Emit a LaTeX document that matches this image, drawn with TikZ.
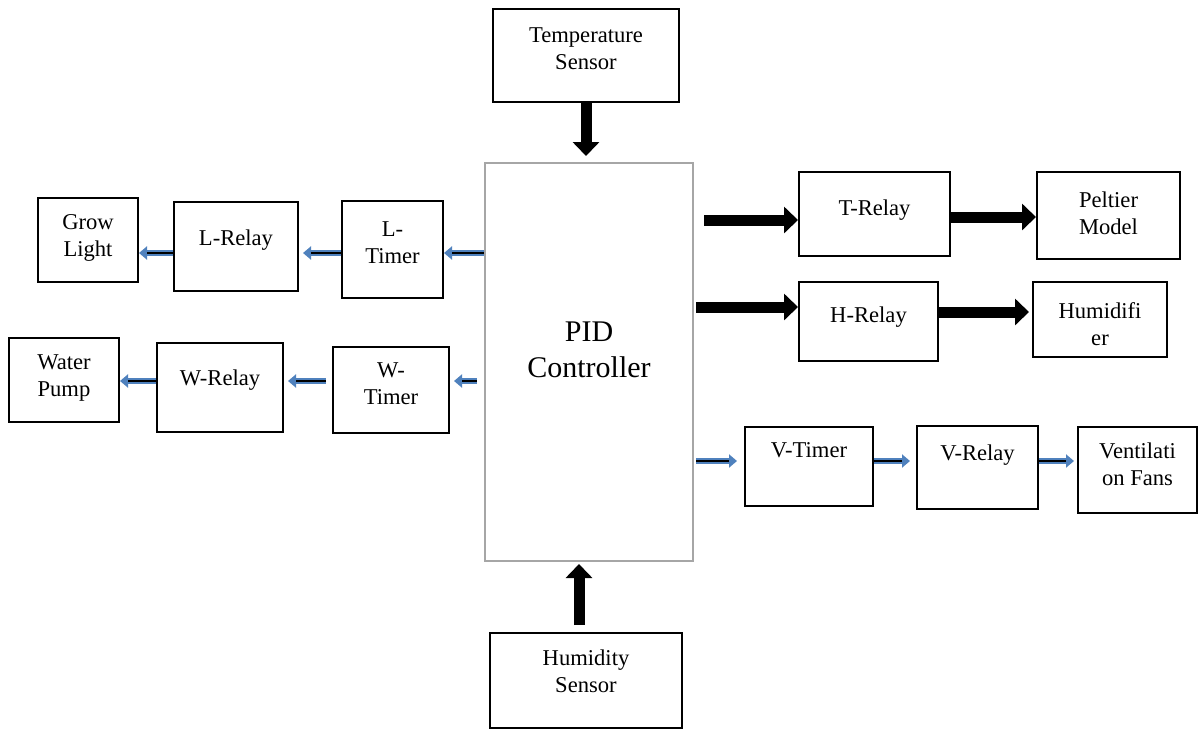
\documentclass[tikz,border=0pt]{standalone}
\usepackage{fontspec}
\setmainfont{Liberation Serif}
\usetikzlibrary{positioning,arrows.meta}
\definecolor{arrblue}{RGB}{79,129,189}
\definecolor{boxgray}{RGB}{166,166,166}
\tikzset{blk/.style={draw,line width=1pt,inner sep=0pt},
	 pidbox/.style={draw=boxgray,line width=1pt,inner sep=0pt},
	 txt/.style={inner sep=0pt,align=center,font=\fontsize{11.3}{13.5}\selectfont},
	 fatarrow/.style={line width=5.5pt,-{Triangle[length=7pt,width=13pt]}},
	 blarrow/.style={draw=arrblue,line width=3.4pt,-{Triangle[length=4pt,width=6.5pt]},shorten >=#1,
	   postaction={draw=black,line width=1.1pt,-,shorten >=#1+4pt}},
	 blarrow/.default=0pt
	 }
\begin{document}
\begin{tikzpicture}[x=0.5pt,y=-0.5pt]% greenhouse control
        \useasboundingbox (0,0) rectangle (1198,729);
        \node[pidbox, minimum width=104pt, minimum height=199pt] (pid) at (589,362) {};
        \node[blk, minimum width=93pt, minimum height=46.5pt] (temp) at (586,55.5) {};
        \node[blk, minimum width=96pt, minimum height=47.5pt] (hum) at (586,680.5) {};
        \node[blk, minimum width=50pt, minimum height=42pt] (grow) at (88,240) {};
        \node[blk, minimum width=62pt, minimum height=44.5pt] (lrel) at (236,246.5) {};
        \node[blk, minimum width=50.5pt, minimum height=48.5pt] (ltim) at (392.5,249.5) {};
        \node[blk, minimum width=55pt, minimum height=42pt] (pump) at (64,380) {};
        \node[blk, minimum width=63pt, minimum height=44.5pt] (wrel) at (220,387.5) {};
        \node[blk, minimum width=58pt, minimum height=43pt] (wtim) at (391,390) {};
        \node[blk, minimum width=75.5pt, minimum height=42pt] (trel) at (874.5,214) {};
        \node[blk, minimum width=71.5pt, minimum height=43.5pt] (pelt) at (1108.5,215.5) {};
        \node[blk, minimum width=69.5pt, minimum height=39.5pt] (hrel) at (868.5,321.5) {};
        \node[blk, minimum width=67pt, minimum height=37.5pt] (humi) at (1100,319.5) {};
        \node[blk, minimum width=64pt, minimum height=39.5pt] (vtim) at (809,466.5) {};
        \node[blk, minimum width=60.5pt, minimum height=41.5pt] (vrel) at (977.5,467.5) {};
        \node[blk, minimum width=59.5pt, minimum height=43pt] (vent) at (1137.5,470) {};
        \node[txt, font=\fontsize{15}{18}\selectfont] (pidt) [below=79.5pt of pid.north] {PID\\Controller};
        \node[txt] (tempt) [below=9.5pt of temp.north] {Temperature\\Sensor};
        \node[txt] (humt) [below=8.5pt of hum.north] {Humidity\\Sensor};
        \node[txt] (growt) [below=8.5pt of grow.north] {Grow\\Light};
        \node[txt] (lrelt) [below=14pt of lrel.north] {L-Relay};
        \node[txt] (ltimt) [below=10.5pt of ltim.north] {L-\\Timer};
        \node[txt] (pumpt) [below=8.5pt of pump.north] {Water\\Pump};
        \node[txt] (wrelt) [below=13.5pt of wrel.north] {W-Relay};
        \node[txt] (wtimt) [below=8pt of wtim.north] {W-\\Timer};
        \node[txt] (trelt) [below=14pt of trel.north] {T-Relay};
        \node[txt] (peltt) [below=10pt of pelt.north] {Peltier\\Model};
        \node[txt] (hrelt) [below=12.5pt of hrel.north] {H-Relay};
        \node[txt] (humit) [below=10.5pt of humi.north] {Humidifi\\er};
        \node[txt] (vtimt) [below=8pt of vtim.north] {V-Timer};
        \node[txt] (vrelt) [below=9.5pt of vrel.north] {V-Relay};
        \node[txt] (ventt) [below=8pt of vent.north] {Ventilati\\on Fans};
        \draw[fatarrow, shorten >=3pt] (temp.south) to (temp.south |- pid.north);
        \draw[fatarrow, shorten <=3.5pt, shorten >=1pt] ([xshift=-3.5pt]hum.north) to ([xshift=-3.5pt]hum.north |- pid.south);
        \draw[blarrow] ([yshift=-1.75pt]pid.west |- ltim.east) to ([yshift=-1.75pt]ltim.east);
        \draw[blarrow=2pt] ([yshift=-1.75pt]ltim.west) to ([yshift=-1.75pt]ltim.west -| lrel.east);
        \draw[blarrow] ([yshift=-3.25pt]lrel.west) to ([yshift=-3.25pt]lrel.west -| grow.east);
        \draw[blarrow=2pt, shorten <=3.5pt] ([yshift=4.5pt]pid.west |- wtim.east) to ([yshift=4.5pt]wtim.east);
        \draw[blarrow=2pt, shorten <=3pt] ([yshift=4.5pt]wtim.west) to ([yshift=4.5pt]wtim.west -| wrel.east);
        \draw[blarrow] ([yshift=3.25pt]wrel.west) to ([yshift=3.25pt]wrel.west -| pump.east);
        \draw[fatarrow, shorten <=5pt] ([yshift=-3pt]pid.east |- trel.west) to ([yshift=-3pt]trel.west);
        \draw[fatarrow] ([yshift=-1.5pt]trel.east) to ([yshift=-1.5pt]trel.east -| pelt.west);
        \draw[fatarrow, shorten <=1pt] ([yshift=7.25pt]pid.east |- hrel.west) to ([yshift=7.25pt]hrel.west);
        \draw[fatarrow, shorten >=1.5pt] ([yshift=4.75pt]hrel.east) to ([yshift=4.75pt]hrel.east -| humi.west);
        \draw[blarrow=3.5pt, shorten <=1pt] ([yshift=2.75pt]pid.east |- vtim.west) to ([yshift=2.75pt]vtim.west);
        \draw[blarrow=3pt] ([yshift=2.75pt]vtim.east) to ([yshift=2.75pt]vtim.east -| vrel.west);
        \draw[blarrow=1.5pt] ([yshift=3.25pt]vrel.east) to ([yshift=3.25pt]vrel.east -| vent.west);
     \end{tikzpicture}
\end{document}
